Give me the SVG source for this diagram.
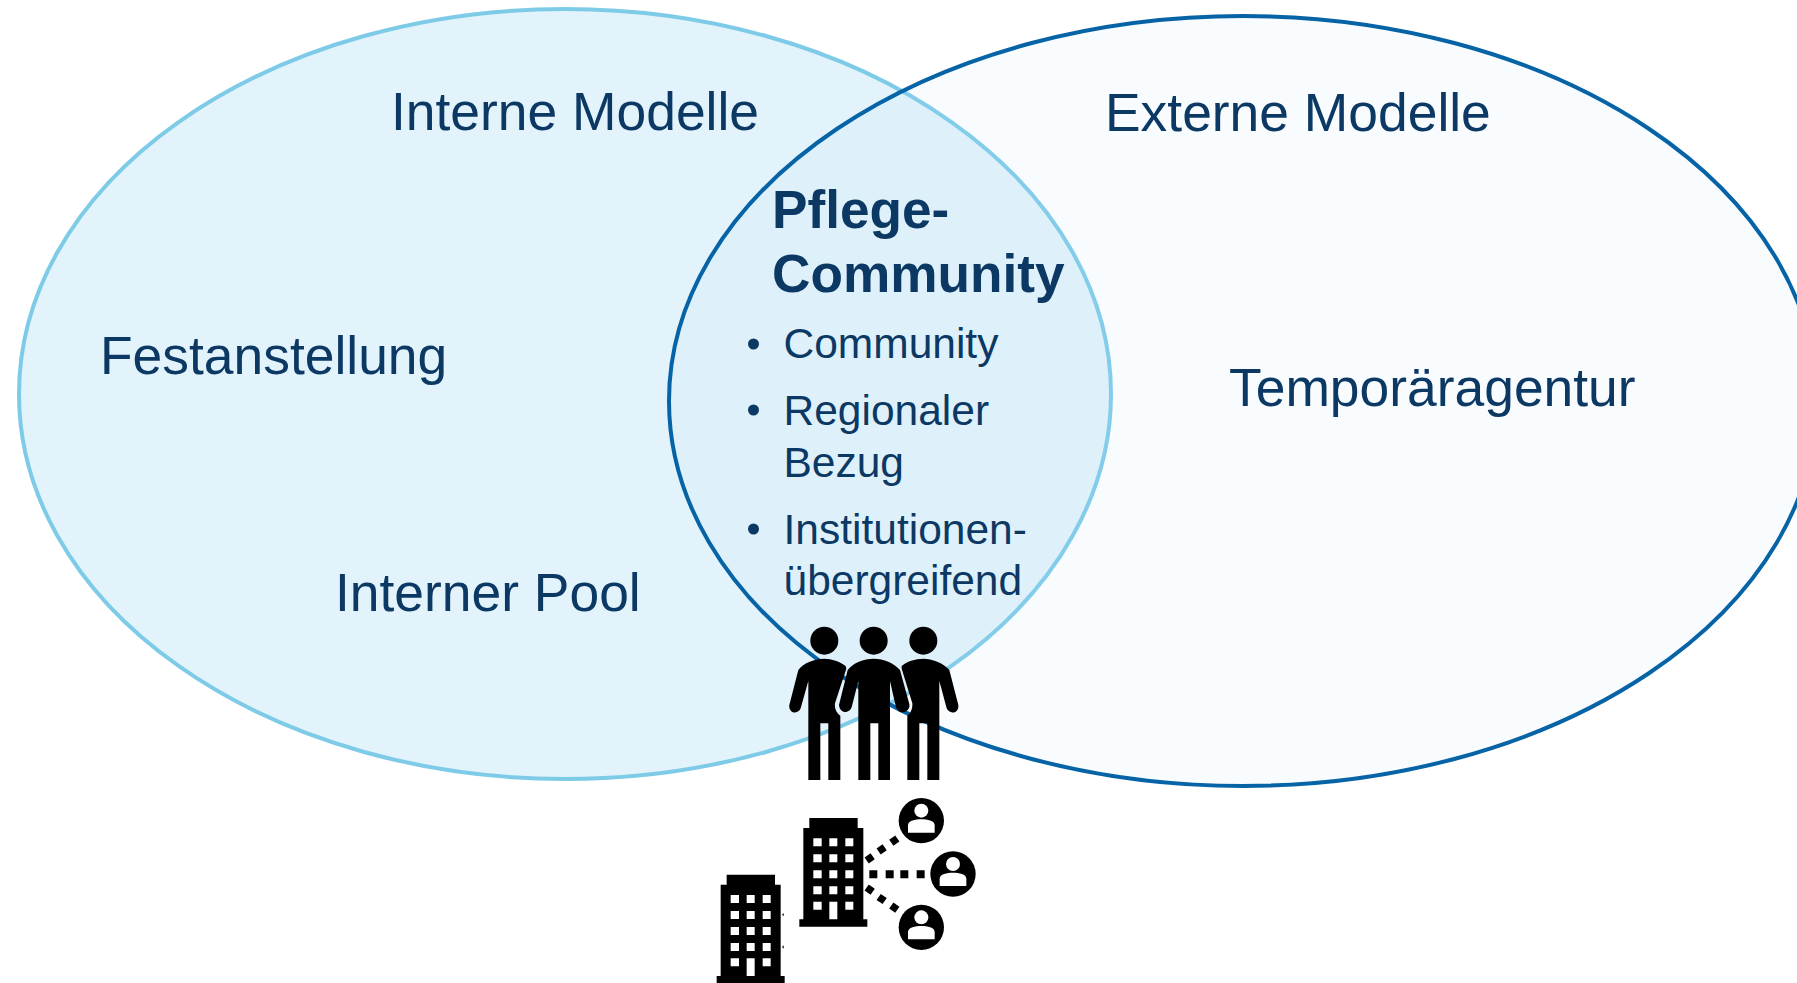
<svg xmlns="http://www.w3.org/2000/svg" width="1797" height="983" viewBox="0 0 1797 983">
<style>
text{font-family:"Liberation Sans",Arial,sans-serif;fill:#0C3864}
.h{font-size:53.4px}
.b{font-size:53.2px;font-weight:bold}
.s{font-size:42.5px}
.k{fill:#000}
.w{fill:#fff}
</style>
<defs>
<g id="building">
<path class="k" d="M388,654H533V684H550V958H562V980H358V958H370V684H388Z"/>
<path class="w" d="M400,715h25v24h-25zM448,715h24v24h-24zM496,715h24v24h-24zM400,763h25v24h-25zM448,763h24v24h-24zM496,763h24v24h-24zM400,811h25v24h-25zM448,811h24v24h-24zM496,811h24v24h-24zM400,859h25v24h-25zM448,859h24v24h-24zM496,859h24v24h-24zM400,905h25v24h-25zM448,905h24v53h-24zM496,905h24v24h-24z"/>
</g>
<g id="user">
<circle class="k" r="68"/>
<circle class="w" cy="-30" r="21"/>
<path class="w" d="M-40,36V14C-40,0 -18,-4 0,-4C18,-4 40,0 40,14V36Z"/>
</g>
</defs>
<rect width="1797" height="983" fill="#fff"/>
<g id="node-intern">
<ellipse cx="565" cy="394" rx="546" ry="385" fill="#E2F3FB" stroke="#7ECBE8" stroke-width="4"/>
<text class="h" x="391" y="129.500">Interne Modelle</text>
<text class="h" x="100" y="373.500">Festanstellung</text>
<text class="h" x="335" y="610.500">Interner Pool</text>
</g>
<g id="node-extern">
<ellipse cx="1243" cy="401" rx="574" ry="385" fill="#B9E1FF" fill-opacity=".1" stroke="#0563A6" stroke-width="4"/>
<text class="h" x="1105" y="130.500">Externe Modelle</text>
<text class="h" x="1229" y="405.500">Temporäragentur</text>
</g>
<g id="node-pflege">
<text class="b" x="772" y="228">Pflege-</text>
<text class="b" x="772" y="292">Community</text>
<circle cx="753.500" cy="344" r="5.500" fill="#0C3864"/>
<circle cx="753.500" cy="410" r="5.500" fill="#0C3864"/>
<circle cx="753.500" cy="529" r="5.500" fill="#0C3864"/>
<text class="s" x="783.500" y="358">Community</text>
<text class="s" x="783.500" y="425">Regionaler</text>
<text class="s" x="783.500" y="477">Bezug</text>
<text class="s" x="783.500" y="544">Institutionen-</text>
<text class="s" x="783.500" y="595">übergreifend</text>
</g>
<g id="node-people" transform="translate(680 600) scale(.33333)">
<circle class="k" cx="433" cy="122" r="42"/>
<circle class="k" cx="581" cy="122" r="42"/>
<circle class="k" cx="730" cy="122" r="42"/>
<path class="k" d="M433,176C455,176 480,185 497,198L499,206L465,310C463,325 470,340 481,347V540H445V370H421V540H385V243L362,325C355,345 325,340 328,315L355,210C370,188 405,176 433,176Z"/>
<path class="k" d="M581,176C612,176 640,188 660,210L688,312C692,330 670,345 655,332C650,328 648,322 647,318L630,243V540H595V370H571V540H535V243L516,318C512,340 480,345 477,315L503,210C520,188 550,176 581,176Z"/>
<path class="k" d="M730,176C705,176 680,185 665,198L665,206L697,310C698,325 692,340 682,347V540H718V370H742V540H778V243L800,325C808,345 838,340 835,315L808,210C790,188 755,176 730,176Z"/>
</g>
<g id="node-building-a" transform="translate(680 600) scale(.33333)">
<use href="#building"/>
<use href="#user" x="724" y="662"/>
<use href="#user" x="819" y="822"/>
<use href="#user" x="724" y="982"/>
</g>
<g id="node-building-b" transform="translate(680 600) scale(.33333)">
<use href="#building" x="-248" y="170"/>
</g>
<g id="connectors" transform="translate(680 600) scale(.33333)">
<path class="k" d="M568,811h24v24h-24zM617,811h24v24h-24zM661,811h24v24h-24zM710,811h24v24h-24z"/>
<rect class="k" x="-11" y="-11" width="22" height="22" transform="translate(569 775) rotate(-35)"/>
<rect class="k" x="-11" y="-11" width="22" height="22" transform="translate(605 748) rotate(-35)"/>
<rect class="k" x="-11" y="-11" width="22" height="22" transform="translate(643 722) rotate(-35)"/>
<rect class="k" x="-11" y="-11" width="22" height="22" transform="translate(569 869) rotate(35)"/>
<rect class="k" x="-11" y="-11" width="22" height="22" transform="translate(605 897) rotate(35)"/>
<rect class="k" x="-11" y="-11" width="22" height="22" transform="translate(643 923) rotate(35)"/>
<path class="k" d="M306,944l5,-5v10zM306,1041l5,-5v10z"/>
</g>
</svg>
